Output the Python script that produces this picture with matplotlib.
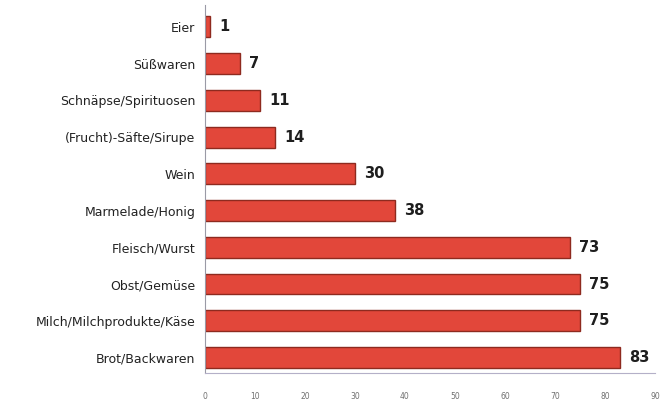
import matplotlib.pyplot as plt

# DATA
kategorier = ["Eier", "Süßwaren", "Schnäpse/Spirituosen", "(Frucht)-Säfte/Sirupe", "Wein",
              "Marmelade/Honig", "Fleisch/Wurst", "Obst/Gemüse", "Milch/Milchprodukte/Käse",
              "Brot/Backwaren"]
verdier = [1, 7, 11, 14, 30, 38, 73, 75, 75, 83]
xticks = [0, 10, 20, 30, 40, 50, 60, 70, 80, 90]

plt.rcParams['font.family'] = ['DejaVu Sans']

fig = plt.figure(figsize=(6.61, 4.01), dpi=100)
ax = fig.add_axes([0.310, 0.070, 0.681, 0.918])

# Eier oeverst
ypos = list(range(len(kategorier) - 1, -1, -1))
ax.barh(ypos, verdier, height=0.57, color="#e2473a", edgecolor="#8e2a1f", linewidth=1.0)

for y, v in zip(ypos, verdier):
    ax.text(v + 1.8, y, str(v), va="center", ha="left", fontsize=10.5, fontweight="bold", color="#1e1e1e")

ax.set_yticks(ypos)
ax.set_yticklabels(kategorier, fontsize=9, color="#222222")
ax.set_xticks(xticks)
ax.set_xticklabels([str(t) for t in xticks], fontsize=5.5, color="#707070")
ax.tick_params(axis="both", length=0)
ax.tick_params(axis="x", pad=14)
ax.tick_params(axis="y", pad=7)

ax.set_xlim(0, 90)
ax.set_ylim(-0.42, 9.6)

for s in ["top", "right"]:
    ax.spines[s].set_visible(False)
ax.spines["left"].set_color("#9a9aa6")
ax.spines["bottom"].set_color("#b4b0c8")
ax.spines["left"].set_linewidth(0.8)
ax.spines["bottom"].set_linewidth(0.8)

fig.savefig("out.png", dpi=100)
